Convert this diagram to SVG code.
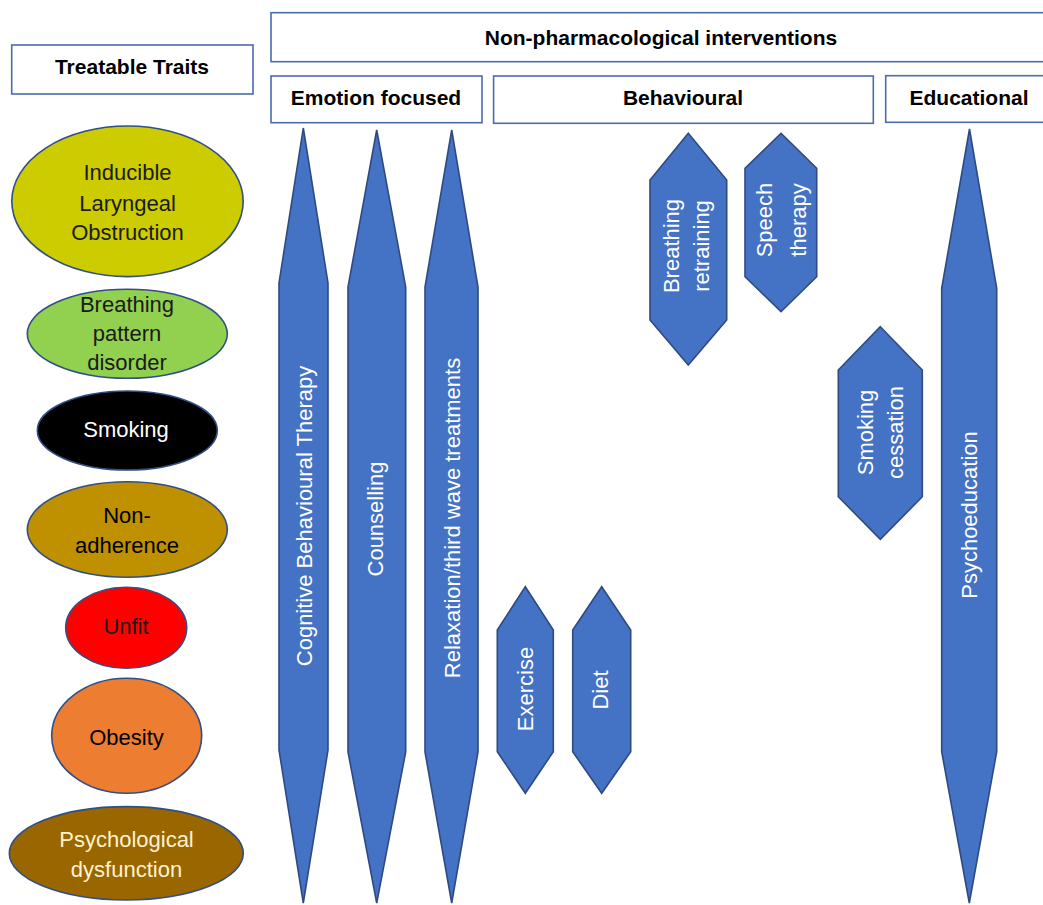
<svg xmlns="http://www.w3.org/2000/svg" width="1043" height="905" viewBox="0 0 1043 905">
<style>
.hdr{fill:#fff;stroke:#4A6BAE;stroke-width:1.6}
.ht{font-family:"Liberation Sans",Arial,sans-serif;font-weight:bold;font-size:21px;fill:#000;text-anchor:middle}
.ell{stroke:#2F4F86;stroke-width:1.6}
.et{font-family:"Liberation Sans",Arial,sans-serif;font-size:22px;text-anchor:middle}
.shp{fill:#4472C4;stroke:#2F4A80;stroke-width:1.6;stroke-linejoin:miter}
.st{font-family:"Liberation Sans",Arial,sans-serif;font-size:22px;fill:#fff;text-anchor:middle}
</style>
<rect width="1043" height="905" fill="#fff"/>

<g id="hdr-traits"><rect class="hdr" x="11.7" y="45" width="241.3" height="49"/><text class="ht" x="132" y="74">Treatable Traits</text></g>
<g id="hdr-nonpharm"><rect class="hdr" x="271" y="12.7" width="782" height="49"/><text class="ht" x="661" y="44.5">Non-pharmacological interventions</text></g>
<g id="hdr-emotion"><rect class="hdr" x="271" y="76" width="211" height="46.7"/><text class="ht" x="376" y="105">Emotion focused</text></g>
<g id="hdr-behavioural"><rect class="hdr" x="493.6" y="76" width="379.7" height="47.3"/><text class="ht" x="683" y="105">Behavioural</text></g>
<g id="hdr-educational"><rect class="hdr" x="885.7" y="75.7" width="167" height="46.6"/><text class="ht" x="969" y="104.5">Educational</text></g>

<g id="trait-ilo"><ellipse class="ell" cx="127.5" cy="201.3" rx="115.7" ry="75.3" fill="#CCCC00"/>
<text class="et" x="127.5" y="180" fill="#1a1a1a">Inducible</text><text class="et" x="127.5" y="210.5" fill="#1a1a1a">Laryngeal</text><text class="et" x="127.5" y="239.5" fill="#1a1a1a">Obstruction</text></g>
<g id="trait-bpd"><ellipse class="ell" cx="127.3" cy="333.8" rx="100" ry="44.5" fill="#92D050"/>
<text class="et" x="127" y="311.5" fill="#1a1a1a">Breathing</text><text class="et" x="127" y="341" fill="#1a1a1a">pattern</text><text class="et" x="127" y="369.5" fill="#1a1a1a">disorder</text></g>
<g id="trait-smoking"><ellipse class="ell" cx="127.3" cy="430.5" rx="90" ry="39.5" fill="#000"/>
<text class="et" x="126" y="436.7" fill="#fff">Smoking</text></g>
<g id="trait-nonadherence"><ellipse class="ell" cx="127.3" cy="529.5" rx="100" ry="47.8" fill="#BF9000"/>
<text class="et" x="127" y="522.7" fill="#000">Non-</text><text class="et" x="127" y="552.7" fill="#000">adherence</text></g>
<g id="trait-unfit"><ellipse class="ell" cx="126.2" cy="627.8" rx="60.5" ry="40.5" fill="#FF0000"/>
<text class="et" x="126" y="634" fill="#1a1a1a">Unfit</text></g>
<g id="trait-obesity"><ellipse class="ell" cx="126.7" cy="735.8" rx="75" ry="57.5" fill="#ED7D31"/>
<text class="et" x="126.5" y="745" fill="#000">Obesity</text></g>
<g id="trait-psych"><ellipse class="ell" cx="126.3" cy="853.3" rx="117" ry="46.7" fill="#996600"/>
<text class="et" x="126.5" y="846.7" fill="#FFF2CC">Psychological</text><text class="et" x="126.5" y="876.7" fill="#FFF2CC">dysfunction</text></g>

<g id="int-cbt"><polygon class="shp" points="303.3,128 328,283 328,750 303.3,903 279,750 279,283"/>
<text class="st" transform="translate(311.5,516) rotate(-90)">Cognitive Behavioural Therapy</text></g>
<g id="int-counselling"><polygon class="shp" points="376.7,130 405.7,287 405.7,752 376.7,903 348,752 348,287"/>
<text class="st" transform="translate(383,519) rotate(-90)">Counselling</text></g>
<g id="int-relaxation"><polygon class="shp" points="451.7,130 478,287 478,752 451.7,903 425,752 425,287"/>
<text class="st" transform="translate(460,518) rotate(-90)">Relaxation/third wave treatments</text></g>
<g id="int-exercise"><polygon class="shp" points="525.3,586.7 553.3,630 553.3,751.7 525.3,793.3 497.3,751.7 497.3,630"/>
<text class="st" transform="translate(533,689) rotate(-90)">Exercise</text></g>
<g id="int-diet"><polygon class="shp" points="601.7,586.7 630.7,630 630.7,751.7 601.7,793.3 572.7,751.7 572.7,630"/>
<text class="st" transform="translate(608,690) rotate(-90)">Diet</text></g>
<g id="int-breathing"><polygon class="shp" points="688.3,133.3 726.7,180 726.7,320 688.3,365 650,320 650,180"/>
<text class="st" transform="translate(678.5,246) rotate(-90)">Breathing</text><text class="st" transform="translate(708.5,246) rotate(-90)">retraining</text></g>
<g id="int-speech"><polygon class="shp" points="781,133.3 816.7,168.3 816.7,276.7 781,311.7 745,276.7 745,168.3"/>
<text class="st" transform="translate(771.5,220) rotate(-90)">Speech</text><text class="st" transform="translate(805.5,220) rotate(-90)">therapy</text></g>
<g id="int-smoking"><polygon class="shp" points="880.3,326.7 922.3,370 922.3,496.7 880.3,539.3 838.3,496.7 838.3,370"/>
<text class="st" transform="translate(872.5,432.5) rotate(-90)">Smoking</text><text class="st" transform="translate(903,432.5) rotate(-90)">cessation</text></g>
<g id="int-psychoeducation"><polygon class="shp" points="969.5,129 996.7,288.3 996.7,751.7 969.3,903 941.7,751.7 941.7,288.3"/>
<text class="st" transform="translate(976.5,515) rotate(-90)">Psychoeducation</text></g>
</svg>
